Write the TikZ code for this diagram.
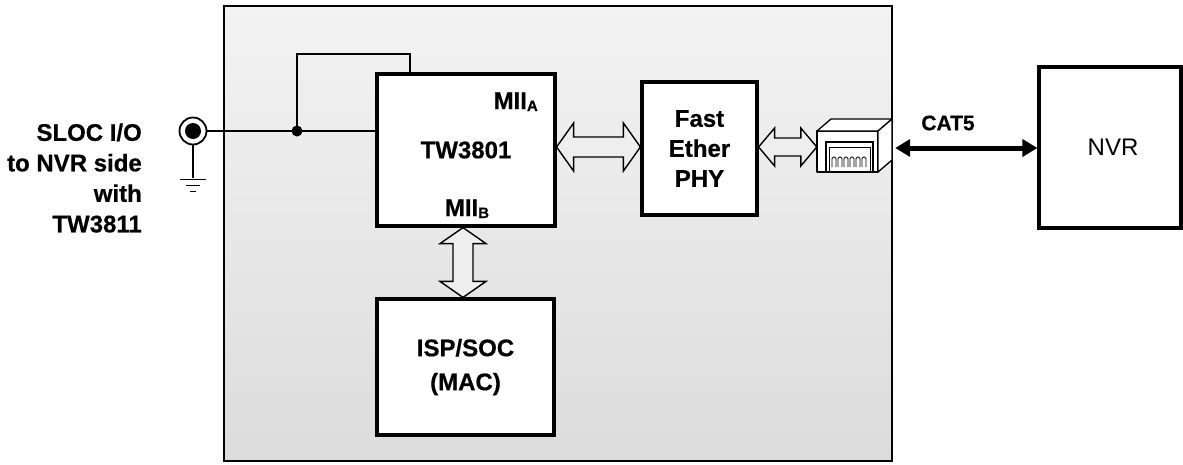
\documentclass[tikz,border=0pt]{standalone}
\usepackage{fontspec}
\setmainfont{Liberation Sans}[BoldFeatures={FakeBold=0.6}]
\usetikzlibrary{arrows.meta,calc}
\definecolor{bgtop}{RGB}{243,243,243}
\definecolor{bgbot}{RGB}{220,220,220}
\definecolor{arrowfill}{RGB}{238,238,238}
\tikzset{
  blk/.style={draw, line width=3.2pt, fill=white, inner sep=0, align=center,
    font=\bfseries\fontsize{24}{30}\selectfont},
  wire/.style={line width=1.8pt},
  hollow/.style={draw, line width=1.4pt, fill=arrowfill, line join=miter},
  lbl/.style={inner sep=0, font=\bfseries\fontsize{24}{30}\selectfont},
  jackline/.style={line width=1.3pt, line join=round},
}
\newcommand\hollowH[5]{\draw[hollow] (#1) -- ($(#1)+(#3,-#4)$) -- ($(#1)+(#3,-#5)$) -- ($(#2)+(-#3,-#5)$) -- ($(#2)+(-#3,-#4)$) -- (#2) -- ($(#2)+(-#3,#4)$) -- ($(#2)+(-#3,#5)$) -- ($(#1)+(#3,#5)$) -- ($(#1)+(#3,#4)$) -- cycle;}
\newcommand\hollowV[5]{\draw[hollow] (#1) -- ($(#1)+(#4,#3)$) -- ($(#1)+(#5,#3)$) -- ($(#2)+(#5,-#3)$) -- ($(#2)+(#4,-#3)$) -- (#2) -- ($(#2)+(-#4,-#3)$) -- ($(#2)+(-#5,-#3)$) -- ($(#1)+(-#5,#3)$) -- ($(#1)+(-#4,#3)$) -- cycle;}
\begin{document}
\begin{tikzpicture}[x=1pt,y=-1pt]
\useasboundingbox (0,0) rectangle (1183,464);
% board
\shade[top color=bgtop, bottom color=bgbot] (224,6) rectangle (892,461);
\draw[line width=2pt] (224,6) rectangle (892,461);

% blocks
\node[blk, minimum width=178pt, minimum height=152pt] (tw) at (466,150) {TW3801};
\node[lbl, anchor=base east] (miia) at (538,109) {MII\raisebox{-2pt}{\fontsize{15}{15}\selectfont A}};
\node[lbl, anchor=base] (miib) at (467,216) {MII\raisebox{-2pt}{\fontsize{15}{15}\selectfont B}};
\node[blk, minimum width=115pt, minimum height=133pt] (phy) at (699.5,148.5) {Fast\\Ether\\PHY};
\node[blk, minimum width=177pt, minimum height=136pt, font=\bfseries\fontsize{24}{34}\selectfont] (isp) at (465.5,367) {ISP/SOC\\(MAC)};
\node[blk, minimum width=142pt, minimum height=161pt, font=\fontsize{24}{30}\selectfont] (nvr) at (1110,147.5) {\hspace*{6pt}NVR};

% left label
\node[lbl, align=right, anchor=east, font=\bfseries\fontsize{24}{30.5}\selectfont] (sloc) at (142,178) {SLOC I/O\\to NVR side\\with\\TW3811};

% coax jack and ground
\node[circle, draw, line width=1.8pt, minimum size=27pt, fill=white, inner sep=0] (jack) at (193,131) {};
\fill (jack.center) circle (8pt);
\draw[wire] (jack.south) -- ++(0,33) coordinate (gnd);
\draw[wire] ($(gnd)+(-13,1)$) -- ($(gnd)+(13,1)$);
\draw[wire] ($(gnd)+(-7,7)$) -- ($(gnd)+(7,7)$);
\draw[wire] ($(gnd)+(-3,13)$) -- ($(gnd)+(3,13)$);

% wires
\coordinate (j) at (297,131);
\coordinate (tp) at (410,54);
\draw[wire] (jack.east) -- (jack.east -| tw.west);
\draw[wire] (j) |- (tp) -- (tp |- tw.north);
\fill (j) circle (5.5pt);

% RJ45 jack
\node[inner sep=0, minimum width=75pt, minimum height=53pt] (rj) at (854.5,145.5) {};
\draw[jackline, fill=white] (817,131) rectangle (878,172);
\draw[jackline, fill=white] (817,131) -- (831,119) -- (892,119) -- (878,131) -- cycle;
\draw[jackline, fill=white] (878,131) -- (892,119) -- (892,160) -- (878,172) -- cycle;
\draw[line width=1.1pt] (826,172) -- (826,142) -- (873,142) -- (873,172);
\draw[line width=0.9pt] (829,172) -- (829,147) -- (870,147) -- (870,172);
\foreach \i in {0,...,5}
  \draw[line width=0.9pt, rounded corners=1.5pt] (832+6*\i,167) -- (832+6*\i,157) -- (836+6*\i,157) -- (836+6*\i,167);

% hollow bus arrows
\coordinate (ya) at (0,147);
\coordinate (a1) at (tw.east |- ya);
\coordinate (a2) at (phy.west |- ya);
\hollowH{a1}{a2}{17}{24}{10}
\coordinate (b1) at (phy.east |- ya);
\coordinate (b2) at (rj.west |- ya);
\hollowH{b1}{b2}{16}{19}{9}
\coordinate (xc) at (463,0);
\coordinate (c1) at (tw.south -| xc);
\coordinate (c2) at (isp.north -| xc);
\hollowV{c1}{c2}{16}{23}{10}

% CAT5 link
\coordinate (yc) at (0,148);
\draw[line width=5pt, {Triangle[length=15pt,width=17pt]}-{Triangle[length=15pt,width=17pt]}]
  ($(rj.east |- yc)+(3,0)$) -- (nvr.west |- yc);
\node[lbl, font=\bfseries\fontsize{21}{25}\selectfont] (cat) at (948,123) {CAT5};
\end{tikzpicture}
\end{document}
